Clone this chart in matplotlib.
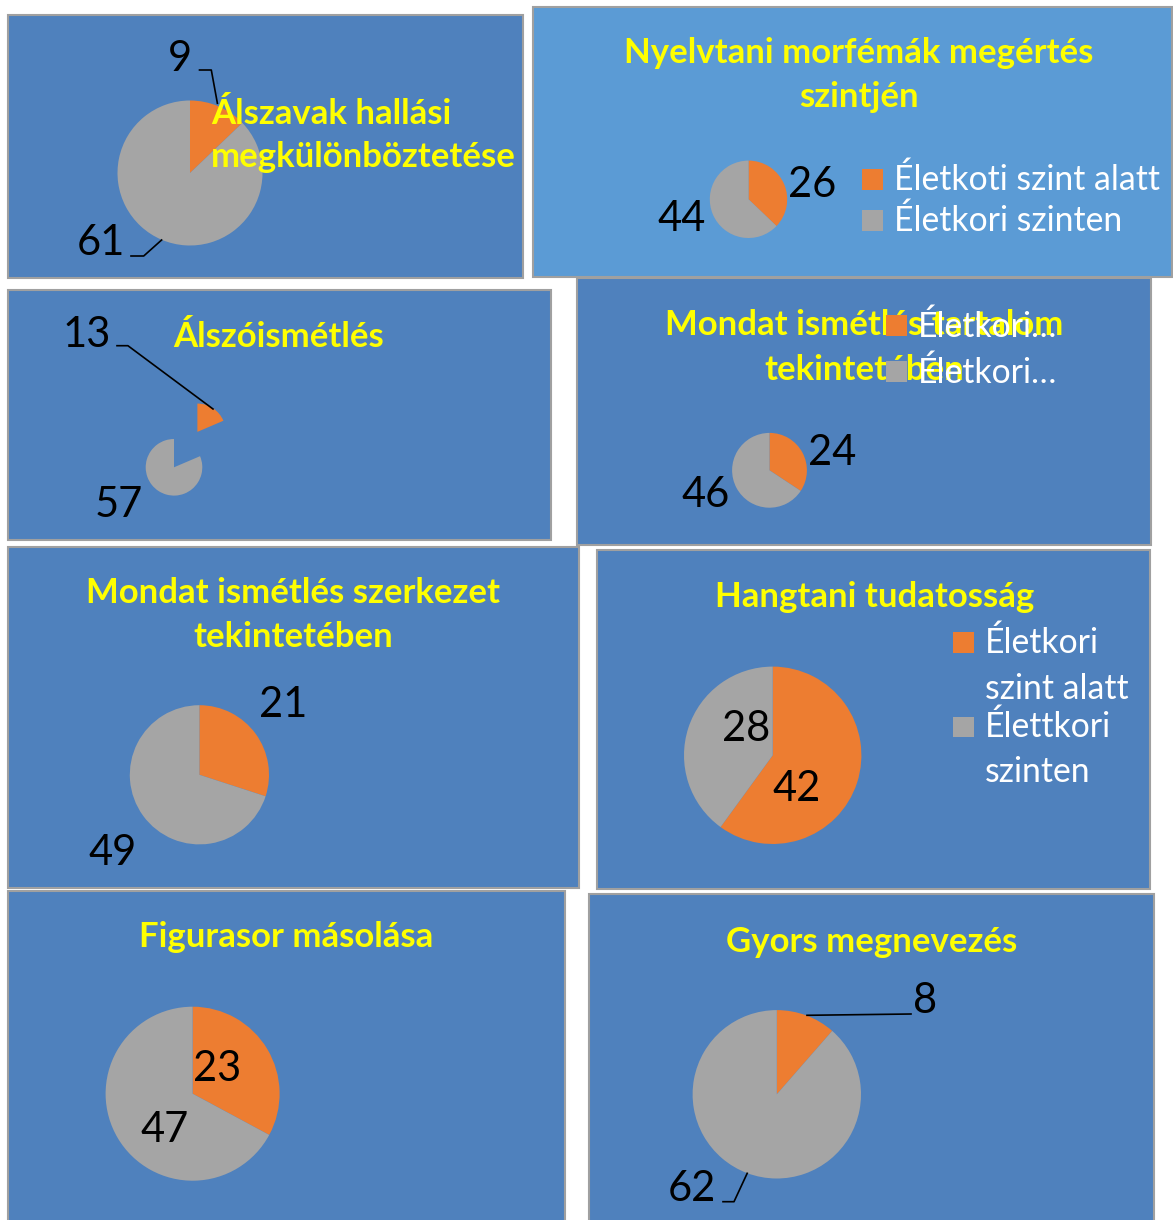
import matplotlib.pyplot as plt
from matplotlib.patches import Rectangle

W, H = 1173, 1220

# data
titles = [
    "Álszavak hallási\nmegkülönböztetése",
    "Nyelvtani morfémák megértés\nszintjén",
    "Álszóismétlés",
    "Mondat ismétlés tartalom\ntekintetében",
    "Mondat ismétlés szerkezet\ntekintetében",
    "Hangtani tudatosság",
    "Figurasor másolása",
    "Gyors megnevezés",
]
below = [9, 26, 13, 24, 21, 42, 23, 8]
at_level = [61, 44, 57, 46, 49, 28, 47, 62]
legend_p2 = ["Életkoti szint alatt", "Életkori szinten"]
legend_p4 = ["Életkori…", "Életkori…"]
legend_p6 = ["Életkori\nszint alatt", "Élettkori\nszinten"]

ORANGE = "#ED7D31"
GRAY = "#A5A5A5"
BLUE = "#4F81BD"
BLUE2 = "#5B9BD5"
YELLOW = "#FFFF00"

plt.rcParams['font.family'] = ['Lato', 'DejaVu Sans']

fig = plt.figure(figsize=(W / 100, H / 100), dpi=100)
fig.patch.set_facecolor("white")

bg = fig.add_axes([0, 0, 1, 1])
bg.set_xlim(0, W)
bg.set_ylim(H, 0)
bg.axis("off")

# panel boxes: x0, y0, x1, y1 in pixels
boxes = [
    (8, 15, 523, 278),
    (533, 7, 1172, 277),
    (8, 290, 551, 540),
    (577, 278, 1151, 545),
    (8, 547, 579, 888),
    (597, 550, 1150, 889),
    (8, 891, 565, 1225),
    (589, 894, 1154, 1225),
]
for i, (x0, y0, x1, y1) in enumerate(boxes):
    fc = BLUE2 if i == 1 else BLUE
    bg.add_patch(Rectangle((x0, y0), x1 - x0, y1 - y0, facecolor=fc,
                           edgecolor="#A0A0A0", linewidth=1.5))

# pie placement: centre x, centre y, radius (pixels)
pie_pos = [
    (190, 173, 72.5),
    (748.5, 199.3, 38.7),
    (174, 467.3, 28.3),
    (769.5, 470.3, 37.4),
    (199.4, 774.8, 69.6),
    (772.7, 755.3, 88.7),
    (192.6, 1093.7, 87),
    (776.8, 1094.3, 84.2),
]


def add_pie(cx, cy, r, vals, explode=None, k=1.02):
    ax = fig.add_axes([(cx - k * r) / W, 1 - (cy + k * r) / H,
                       2 * k * r / W, 2 * k * r / H])
    ax.pie(vals, colors=[ORANGE, GRAY], startangle=90, counterclock=False,
           explode=explode, radius=1, wedgeprops=dict(linewidth=0))
    ax.set_xlim(-k, k)
    ax.set_ylim(-k, k)
    ax.set_aspect("auto")
    ax.axis("off")
    return ax


for i, (cx, cy, r) in enumerate(pie_pos):
    vals = [below[i], at_level[i]]
    if i == 2:
        add_pie(cx, cy, r, vals, explode=[1.5, 0], k=2.6)
    else:
        add_pie(cx, cy, r, vals)

# overlay for titles, labels, legends
ov = fig.add_axes([0, 0, 1, 1])
ov.set_xlim(0, W)
ov.set_ylim(H, 0)
ov.axis("off")
ov.patch.set_alpha(0)

tkw = dict(color=YELLOW, fontsize=25, fontweight="bold", va="baseline")
lkw = dict(color="black", fontsize=30, va="baseline", ha="center")
gkw = dict(color="white", fontsize=24.3, va="baseline", ha="left")

# title positions (x, [baselines], ha)
title_pos = [
    (211, [124.3, 166.7], "left"),
    (859, [62.7, 107.3], "center"),
    (279, [346.7], "center"),
    (864, [335, 380], "center"),
    (293.5, [602.7, 647.3], "center"),
    (874.4, [606.7], "center"),
    (286, [946.7], "center"),
    (871.2, [951.7], "center"),
]
for t, (x, ys, ha) in zip(titles, title_pos):
    for line, y in zip(t.split("\n"), ys):
        ov.text(x, y, line, ha=ha, zorder=2, **tkw)

# data labels: (x, baseline) for below, at_level
label_pos = [
    ((180, 71), (100.7, 255)),
    ((812, 196.7), (681.7, 230.7)),
    ((86.8, 347.3), (119, 517.3)),
    ((831.7, 465), (705.8, 507.3)),
    ((283, 716.7), (113, 865)),
    ((797, 800.7), (746, 740.7)),
    ((216.9, 1080.7), (164.4, 1141.7)),
    ((925.3, 1013.3), (691.6, 1200.7)),
]
for i, (p_b, p_a) in enumerate(label_pos):
    ov.text(p_b[0], p_b[1], str(below[i]), zorder=3, **lkw)
    ov.text(p_a[0], p_a[1], str(at_level[i]), zorder=3, **lkw)

# leader lines
leaders = [
    ([199.5, 211.3, 217.4], [70, 70, 103.3]),
    ([131, 143.7, 161.6], [256, 256, 240]),
    ([117, 127.9, 213], [345.7, 345.7, 409]),
    ([807, 911], [1015.3, 1014]),
    ([723, 734, 747.2], [1201.7, 1201.7, 1173.3]),
]
for xs, ys in leaders:
    ov.plot(xs, ys, color="black", linewidth=1.2, zorder=3)


def legend(x_sq, size, rows, labels, x_txt):
    # rows: (square top y, [text baselines])
    for (ytop, bases), lab, col in zip(rows, labels, [ORANGE, GRAY]):
        ov.add_patch(Rectangle((x_sq, ytop), size, size, facecolor=col,
                               edgecolor="none", zorder=4))
        for line, yb in zip(lab.split("\n"), bases):
            ov.text(x_txt, yb, line, zorder=5, **gkw)


legend(862, 20.5, [(169, [190]), (210, [230.7])], legend_p2, 894)
legend(886, 21, [(315, [336.7]), (361, [383.3])], legend_p4, 917.5)
legend(953, 20.5, [(632, [653.3, 699]), (716.7, [736.7, 782.3])], legend_p6, 985)

fig.savefig("out.png", dpi=100, facecolor="white")
